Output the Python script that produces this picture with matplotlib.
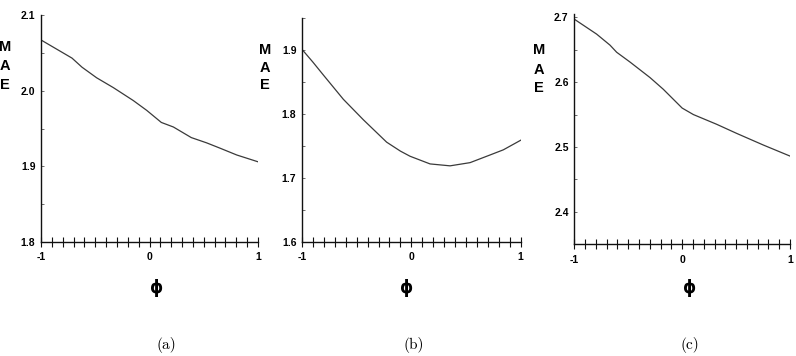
import matplotlib
matplotlib.use("Agg")
import matplotlib.pyplot as plt
import numpy as np
from matplotlib.ticker import MultipleLocator, FixedLocator

# ---- data ----
phi_a = [-1.0, -0.714, -0.622, -0.487, -0.333, -0.15, -0.026, 0.109, 0.22, 0.385, 0.527, 0.65, 0.804, 1.0]
mae_a = [2.067, 2.043, 2.031, 2.017, 2.004, 1.987, 1.974, 1.958, 1.952, 1.938, 1.931, 1.924, 1.915, 1.906]

phi_b = [-1.0, -0.9, -0.805, -0.622, -0.439, -0.226, -0.1, -0.012, 0.171, 0.354, 0.537, 0.72, 0.841, 1.0]
mae_b = [1.901, 1.881, 1.861, 1.823, 1.791, 1.756, 1.742, 1.734, 1.722, 1.719, 1.724, 1.736, 1.744, 1.759]

phi_c = [-1.0, -0.793, -0.669, -0.607, -0.484, -0.298, -0.175, 0.0, 0.104, 0.32, 0.505, 0.753, 1.0]
mae_c = [2.697, 2.674, 2.657, 2.646, 2.631, 2.607, 2.589, 2.560, 2.550, 2.535, 2.521, 2.503, 2.486]

xticks = [-1, 0, 1]
xticklabels = ["-1", "0", "1"]
yticks_a = [1.8, 1.9, 2.0, 2.1]
yticks_b = [1.6, 1.7, 1.8, 1.9]
yticks_c = [2.4, 2.5, 2.6, 2.7]
ylim_a = (1.8, 2.1)
ylim_b = (1.6, 1.95)
ylim_c = (2.35, 2.705)
captions = ["(a)", "(b)", "(c)"]

W, H = 796, 356
fig = plt.figure(figsize=(W / 100, H / 100), dpi=100)

def px_rect(l, t, r, b):
    return [l / W, 1 - b / H, (r - l) / W, (b - t) / H]

rects = [px_rect(41, 15, 258, 242), px_rect(302, 18, 520.7, 242), px_rect(574.3, 14, 790, 244.3)]
datas = [(phi_a, mae_a, yticks_a, ylim_a), (phi_b, mae_b, yticks_b, ylim_b), (phi_c, mae_c, yticks_c, ylim_c)]

tickfont = dict(family="Liberation Sans", weight="bold", size=7.5)

for rect, (x, y, yt, yl) in zip(rects, datas):
    ax = fig.add_axes(rect)
    ax.plot(x, y, color="#3a3a3a", lw=0.9)
    ax.set_xlim(-1, 1)
    ax.set_ylim(*yl)
    for s in ["top", "right"]:
        ax.spines[s].set_visible(False)
    for s in ["left", "bottom"]:
        ax.spines[s].set_linewidth(1.0)
        ax.spines[s].set_color("#111111")
    ax.xaxis.set_major_locator(FixedLocator(xticks))
    ax.set_xticklabels(xticklabels, fontdict=tickfont)
    ax.xaxis.set_minor_locator(MultipleLocator(0.1))
    ax.tick_params(axis="x", which="both", direction="inout", length=7, width=0.8, pad=4, color="#111111")
    ax.set_yticks(yt)
    ax.set_yticklabels([f"{v:.1f}" for v in yt], fontdict=tickfont)
    ax.yaxis.set_minor_locator(MultipleLocator(0.05))
    ax.tick_params(axis="y", which="both", direction="in", length=2, width=0.6, pad=4, color="#555555")
    ax.patch.set_alpha(0)

def ftext(xp, yp, s, **kw):
    fig.text(xp / W, 1 - yp / H, s, ha="center", va="center", **kw)

lab = dict(family="Liberation Sans", weight="bold", size=10.5)
for xm, ys in [(5, (47, 66, 85)), (265, (50, 68, 85)), (539, (50, 70, 88))]:
    for ch, yy in zip("MAE", ys):
        ftext(xm, yy, ch, **lab)

for xp in (157, 407, 690):
    ftext(xp, 288, "\u03d5", family="DejaVu Sans", weight="bold", size=12)

for xp, c in zip((166, 414, 690), captions):
    ftext(xp, 345, c, family=["cmr10", "DejaVu Serif"], size=11)

fig.savefig("out.png", dpi=100)
